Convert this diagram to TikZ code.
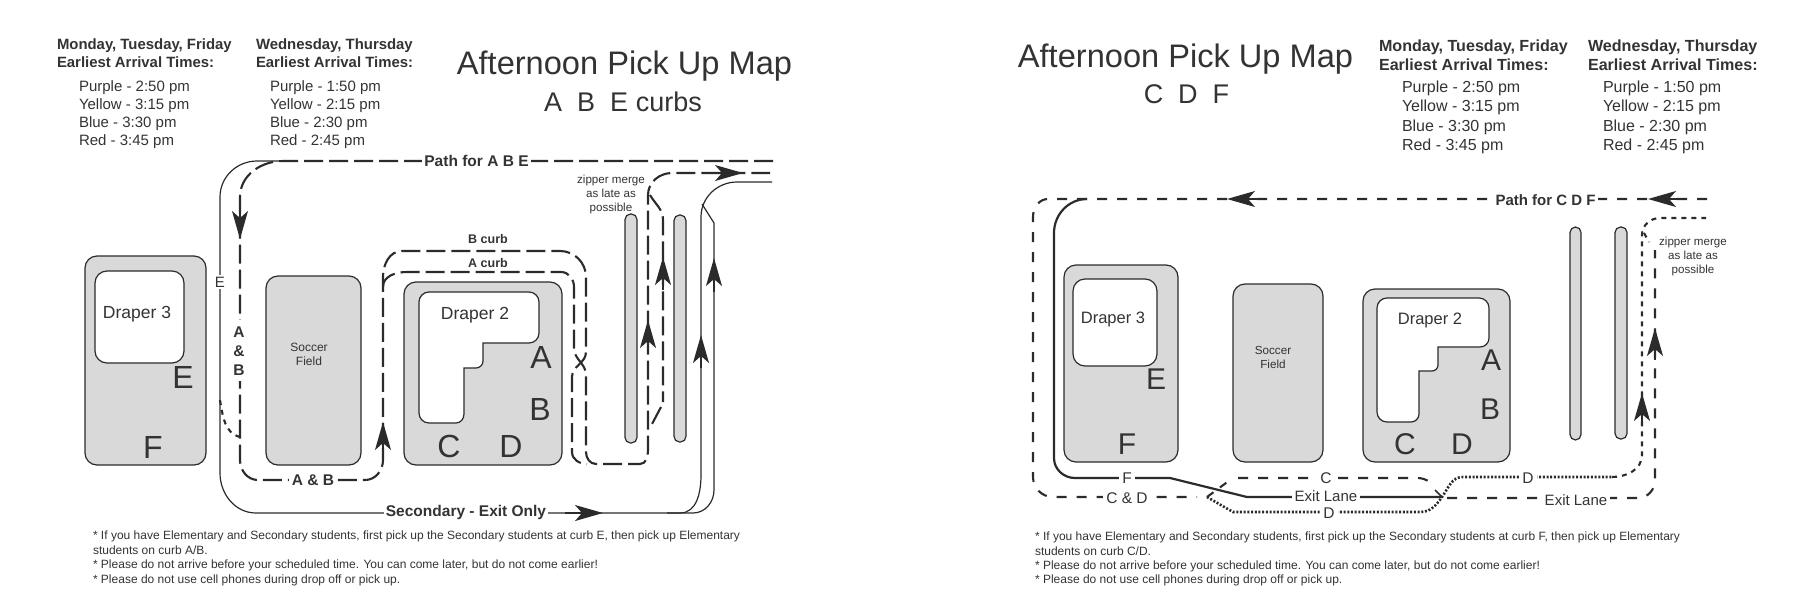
\documentclass[tikz,border=0pt]{standalone}
\usepackage{fontspec}
\setmainfont{Liberation Sans}
\usetikzlibrary{arrows.meta}
\definecolor{inkc}{HTML}{2B2B2B}
\definecolor{textc}{HTML}{333333}
\definecolor{bldgc}{HTML}{D9D9D9}
\newcommand{\pxf}[1]{\fontsize{#1}{#1}\selectfont}
\tikzset{
	every node/.style={text=textc, inner sep=0pt, outer sep=0pt},
	bldg/.style={
		rectangle,
		rounded corners=12pt,
		fill=bldgc,
		draw=inkc, line width=1.2pt,
		anchor=north west},
	bldgcore/.style={fill=white, draw=inkc, line width=1.2pt},
	island/.style={
		rectangle,
		rounded corners=5.5pt,
		fill=bldgc,
		draw=inkc, line width=1.2pt,
		anchor=north west},
	solidroad/.style={draw=inkc, line width=1.2pt},
	boldroad/.style={draw=inkc, line width=2.2pt},
	dashroadL/.style={draw=inkc, line width=2.1pt, dash pattern=on 19pt off 6pt},
	dashroadR/.style={draw=inkc, line width=2.1pt, dash pattern=on 10pt off 10pt},
	shortroad/.style={draw=inkc, line width=2.1pt, dash pattern=on 5pt off 5pt},
	dotroad/.style={draw=inkc, line width=2.6pt, dash pattern=on 2pt off 1.7pt},
	flowtip/.style={draw=inkc, line width=1.4pt, -{Stealth[length=28pt, width=16pt, inset=7pt]}},
	daysL/.style={font=\bfseries\pxf{14.9}, anchor=base west},
	timesL/.style={font=\pxf{15}, anchor=base west},
	daysR/.style={font=\bfseries\pxf{16.1}, anchor=base west},
	timesR/.style={font=\pxf{16}, anchor=base west},
	titletxt/.style={font=\pxf{32.6}, anchor=base},
	subtxt/.style={font=\pxf{27}, anchor=base},
	bigletter/.style={font=\pxf{32}, anchor=base},
	bldgname/.style={font=\pxf{17.5}, anchor=base},
	smalltxt/.style={font=\pxf{11.6}, anchor=base},
	notetxt/.style={font=\pxf{12}, anchor=base west},
	boldlabel/.style={font=\bfseries\pxf{15.5}, anchor=base, fill=white, inner xsep=2pt, inner ysep=1pt},
	curblabel/.style={font=\bfseries\pxf{12.5}, anchor=base},
	lanelabel/.style={font=\pxf{15.5}, anchor=base, fill=white, inner xsep=3pt, inner ysep=1pt},
}
\begin{document}
\begin{tikzpicture}[x=1pt, y=-1pt]
	\useasboundingbox (0,0) rectangle (1800,600);
	% left map
	\node[daysL] (monL) at (57,49) {Monday, Tuesday, Friday};
	\node[daysL] (earlyL) at (57,67) {Earliest Arrival Times:};
	\node[timesL] (purpleL) at (79,91) {Purple - 2:50 pm};
	\node[timesL] (yellowL) at (79,109) {Yellow - 3:15 pm};
	\node[timesL] (blueL) at (79,127) {Blue - 3:30 pm};
	\node[timesL] (redL) at (79,145) {Red - 3:45 pm};
	\node[daysL] (wedL) at (256,49) {Wednesday, Thursday};
	\node[daysL] (earlyWL) at (256,67) {Earliest Arrival Times:};
	\node[timesL] (purpleWL) at (270,91) {Purple - 1:50 pm};
	\node[timesL] (yellowWL) at (270,109) {Yellow - 2:15 pm};
	\node[timesL] (blueWL) at (270,127) {Blue - 2:30 pm};
	\node[timesL] (redWL) at (270,145) {Red - 2:45 pm};
	\node[titletxt] (titleL) at (624.5,74) {Afternoon Pick Up Map};
	\node[subtxt] (subL) at (623,111) {A\hspace{.278em} B\hspace{.278em} E curbs};

	\node[bldg, minimum width=121pt, minimum height=209pt] (draperThreeL) at (85,256) {};
	\node[bldg, fill=white, minimum width=89pt, minimum height=92pt] (coreThreeL) at (95,271) {};
	\node[bldg, minimum width=95pt, minimum height=189pt] (soccerL) at (266,276) {};
	\node[bldg, minimum width=158pt, minimum height=183pt] (draperTwoL) at (404,282) {};
	\draw[bldgcore] (483,343) -- (483,361) to[out=-90,in=0] (476,368) -- (464,368) -- (464,414) to[out=-90,in=0] (456,423)
		-- (429,423) to[out=180,in=-90] (419,413) -- (419,302) to[out=90,in=180] (429,292) -- (529,292)
		to[out=0,in=90] (539,302) -- (539,333) to[out=-90,in=0] (529,343) -- cycle;
	\node[island, minimum width=12pt, minimum height=229pt] (islandOneL) at (625,214) {};
	\node[island, minimum width=12pt, minimum height=227pt] (islandTwoL) at (674,215) {};

	\node[bldgname] (nameThreeL) at (137,318) {Draper 3};
	\node[bldgname] (nameTwoL) at (475,319) {Draper 2};
	\node[bigletter] (letterEL) at (183,388) {E};
	\node[bigletter] (letterFL) at (153,458) {F};
	\node[bigletter] (letterAL) at (541,368) {A};
	\node[bigletter] (letterBL) at (540,420) {B};
	\node[bigletter] (letterCL) at (449,457) {C};
	\node[bigletter] (letterDL) at (511,457) {D};
	\node[smalltxt, font=\pxf{12}] (socOneL) at (309,351) {Soccer};
	\node[smalltxt, font=\pxf{12}] (socTwoL) at (309,365) {Field};

	% secondary lane, solid
	\draw[solidroad] (290,161) -- (257,161) to[out=180,in=90] (220,197) -- (220,473) to[out=-90,in=180] (256,513) -- (680,513)
		to[out=0,in=-90] (701,475) -- (701,217) to[out=90,in=180] (737,182) -- (772,182);
	\draw[solidroad] (667,513) -- (693,513) to[out=0,in=-90] (714,490) -- (714,223) -- (702,204);
	% main lane, dashed
	\draw[dashroadL] (773,161) -- (283,161) to[out=180,in=90] (240,197) -- (240,460) to[out=-90,in=180] (258,480)
		-- (365,480) to[out=0,in=-90] (383,460) -- (383,277) to[out=90,in=180] (402,251) -- (560,251)
		to[out=0,in=90] (586,277) -- (586,352) to[out=-90,in=90] (572,377) -- (572,452) to[out=-90,in=180] (587,464);
	\draw[dashroadL] (383,287) to[out=90,in=180] (407,272) -- (561,272) to[out=0,in=90] (574,287) -- (574,348)
		to[out=-90,in=90] (586,375) -- (586,452) to[out=-90,in=180] (596,464) -- (640,464) to[out=0,in=-90] (648,450)
		-- (648,195) to[out=90,in=180] (672,173) -- (770,173);
	\draw[dashroadL] (650,195) to[out=-60,in=90] (663,220) -- (663,402);
	\draw[dashroadL] (661,407) -- (652,424);
	\draw[shortroad] (220,400) to[out=-80,in=165] (240,437);

	\draw[flowtip] (240,205) -- (240,239);
	\draw[flowtip] (383,452) -- (383,422);
	\draw[flowtip] (648,352) -- (648,320);
	\draw[flowtip] (663,290) -- (663,257);
	\draw[flowtip] (701,368) -- (701,335);
	\draw[flowtip] (714,292) -- (714,258);
	\draw[flowtip] (708,173) -- (743,173);
	\draw[flowtip] (565,513) -- (603,513);

	\node[boldlabel] (pathL) at (476.5,166) {Path for A B E};
	\node[boldlabel] (secL) at (466,516) {Secondary - Exit Only};
	\node[boldlabel, inner xsep=3pt] (abL) at (313,485) {A \& B};
	\node[boldlabel, inner ysep=6pt] (abAL) at (239,337) {A};
	\node[boldlabel, inner ysep=3pt] (abMidL) at (239,356) {\&};
	\node[boldlabel, inner ysep=6pt] (abBL) at (239,375) {B};
	\node[font=\pxf{15}, anchor=base, fill=white, inner ysep=2pt, inner xsep=1pt] (laneEL) at (220,287) {E};
	\node[curblabel] (curbBL) at (488,243) {B curb};
	\node[curblabel] (curbAL) at (488,267) {A curb};
	\node[smalltxt] (zipOneL) at (611,183) {zipper merge};
	\node[smalltxt] (zipTwoL) at (611,197) {as late as};
	\node[smalltxt] (zipThreeL) at (611,211) {possible};
	\node[notetxt] (noteOneL) at (93,539) {* If you have Elementary and Secondary students, first pick up the Secondary students at curb E, then pick up Elementary};
	\node[notetxt] (noteTwoL) at (93,554) {students on curb A/B.};
	\node[notetxt] (noteThreeL) at (93,568) {* Please do not arrive before your scheduled time. You can come later, but do not come earlier!};
	\node[notetxt] (noteFourL) at (93,583) {* Please do not use cell phones during drop off or pick up.};

	% right map
	\node[titletxt] (titleR) at (1185.5,67) {Afternoon Pick Up Map};
	\node[subtxt] (subR) at (1186.5,103) {C\hspace{.278em} D\hspace{.278em} F};
	\node[daysR] (monR) at (1379,51) {Monday, Tuesday, Friday};
	\node[daysR] (earlyR) at (1379,70) {Earliest Arrival Times:};
	\node[timesR] (purpleR) at (1402,92) {Purple - 2:50 pm};
	\node[timesR] (yellowR) at (1402,111) {Yellow - 3:15 pm};
	\node[timesR] (blueR) at (1402,131) {Blue - 3:30 pm};
	\node[timesR] (redR) at (1402,150) {Red - 3:45 pm};
	\node[daysR] (wedR) at (1588,51) {Wednesday, Thursday};
	\node[daysR] (earlyWR) at (1588,70) {Earliest Arrival Times:};
	\node[timesR] (purpleWR) at (1603,92) {Purple - 1:50 pm};
	\node[timesR] (yellowWR) at (1603,111) {Yellow - 2:15 pm};
	\node[timesR] (blueWR) at (1603,131) {Blue - 2:30 pm};
	\node[timesR] (redWR) at (1603,150) {Red - 2:45 pm};

	\node[bldg, minimum width=114pt, minimum height=197pt] (draperThreeR) at (1064,265) {};
	\node[bldg, fill=white, minimum width=84pt, minimum height=87pt] (coreThreeR) at (1073,279) {};
	\node[bldg, minimum width=90pt, minimum height=178pt] (soccerR) at (1233,284) {};
	\node[bldg, minimum width=147pt, minimum height=173pt] (draperTwoR) at (1363,289) {};
	\draw[bldgcore] (1438,347) -- (1438,365) to[out=-90,in=0] (1432,371) -- (1419,371) -- (1419,414) to[out=-90,in=0] (1411,422)
		-- (1387,422) to[out=180,in=-90] (1377,412) -- (1377,308) to[out=90,in=180] (1387,298) -- (1479,298)
		to[out=0,in=90] (1489,308) -- (1489,338) to[out=-90,in=0] (1480,347) -- cycle;
	\node[island, minimum width=11pt, minimum height=213pt] (islandOneR) at (1570,227) {};
	\node[island, minimum width=12pt, minimum height=212pt] (islandTwoR) at (1615,227) {};

	\node[bldgname, font=\pxf{16.5}] (nameThreeR) at (1113,323) {Draper 3};
	\node[bldgname, font=\pxf{16.5}] (nameTwoR) at (1430,324) {Draper 2};
	\node[bigletter, font=\pxf{30}] (letterER) at (1156,389) {E};
	\node[bigletter, font=\pxf{30}] (letterFR) at (1127,454) {F};
	\node[bigletter, font=\pxf{30}] (letterAR) at (1491,370) {A};
	\node[bigletter, font=\pxf{30}] (letterBR) at (1490,419) {B};
	\node[bigletter, font=\pxf{30}] (letterCR) at (1405,454) {C};
	\node[bigletter, font=\pxf{30}] (letterDR) at (1462,454) {D};
	\node[smalltxt, font=\pxf{11.7}] (socOneR) at (1273,354) {Soccer};
	\node[smalltxt, font=\pxf{11.7}] (socTwoR) at (1273,368) {Field};

	% path for the curbs, dashed and dotted
	\draw[dashroadR] (1707,199) -- (1048,199) to[out=180,in=90] (1033,217) -- (1033,477) to[out=-90,in=180] (1053,497)
		-- (1197,497);
	\draw[dashroadR, dash pattern=on 8pt off 8pt] (1207,497) -- (1230,480);
	\draw[dashroadR] (1238,478) -- (1417,478) to[out=0,in=150] (1430,482);
	\draw[boldroad] (1087,199) to[out=180,in=90] (1054,233) -- (1054,458) to[out=-90,in=180] (1075,478) -- (1170,478)
		-- (1247,497) -- (1442,497);
	\draw[draw=inkc, line width=1.6pt] (1435,490) -- (1442,497);
	\draw[dashroadR] (1447,498) -- (1638,498) to[out=0,in=-90] (1655,480) -- (1655,250);
	\draw[dotroad] (1207,497) -- (1233,512) -- (1420,512) to[out=0,in=-125] (1442,497) to[out=55,in=180] (1463,477) -- (1612,477);
	\draw[shortroad] (1612,477) to[out=0,in=-90] (1642,455) -- (1642,235) to[out=90,in=180] (1660,218) -- (1706,218);
	\draw[shortroad] (1644,233) -- (1649,242);

	\draw[flowtip] (1265,199) -- (1227,199);
	\draw[flowtip] (1680,199) -- (1648,199);
	\draw[flowtip] (1642,426) -- (1642,393);
	\draw[flowtip] (1655,360) -- (1655,328);

	\node[boldlabel, font=\bfseries\pxf{15}] (pathR) at (1545.5,205) {Path for C D F};
	\node[lanelabel] (laneFR) at (1127,483) {F};
	\node[lanelabel] (laneCDR) at (1127,503) {C \& D};
	\node[lanelabel] (laneCR) at (1326,483) {C};
	\node[lanelabel, font=\pxf{15}] (exitOneR) at (1326,501) {Exit Lane};
	\node[lanelabel] (laneDBR) at (1329,518) {D};
	\node[lanelabel] (laneDTR) at (1528,483) {D};
	\node[lanelabel, font=\pxf{15}] (exitTwoR) at (1576,505) {Exit Lane};
	\node[smalltxt] (zipOneR) at (1693,245) {zipper merge};
	\node[smalltxt] (zipTwoR) at (1693,259) {as late as};
	\node[smalltxt] (zipThreeR) at (1693,273) {possible};
	\node[notetxt] (noteOneR) at (1035,540) {* If you have Elementary and Secondary students, first pick up the Secondary students at curb F, then pick up Elementary};
	\node[notetxt] (noteTwoR) at (1035,555) {students on curb C/D.};
	\node[notetxt] (noteThreeR) at (1035,569) {* Please do not arrive before your scheduled time. You can come later, but do not come earlier!};
	\node[notetxt] (noteFourR) at (1035,583) {* Please do not use cell phones during drop off or pick up.};
\end{tikzpicture}
\end{document}
